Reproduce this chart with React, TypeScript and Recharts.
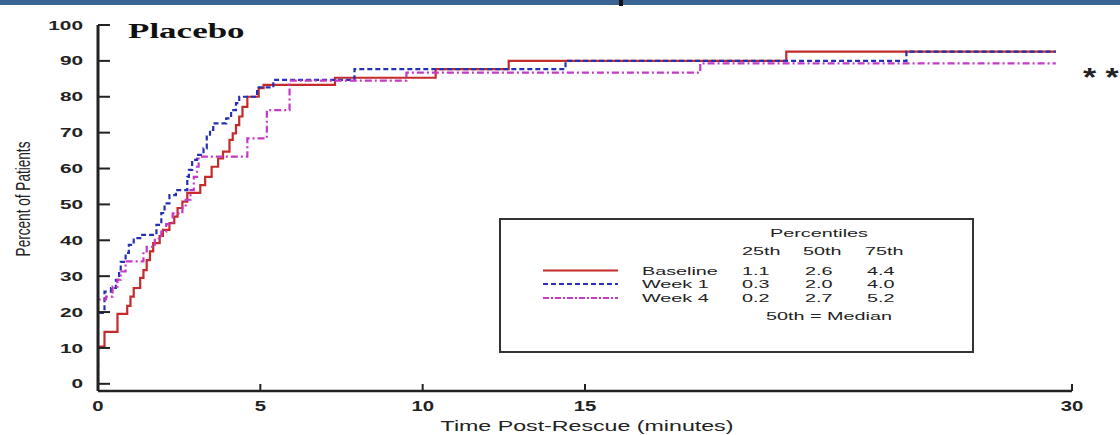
import { Line, LineChart, XAxis, YAxis } from "recharts";

// Cumulative percent of patients over time (step curves)
const baselineTime = [0, 0, 0.2, 0.6, 0.9, 1.0, 1.1, 1.3, 1.4, 1.5, 1.6, 1.7, 1.9, 2.0, 2.2, 2.35, 2.45, 2.6, 2.75, 3.15, 3.3, 3.5, 3.7, 3.85, 4.05, 4.15, 4.25, 4.35, 4.45, 4.6, 4.95, 5.1, 7.3, 10.4, 12.65, 21.2, 29.5];
const baselinePct = [0, 10.4, 14.5, 19.5, 21.7, 24.3, 26.7, 29.5, 31.7, 34.5, 36.9, 39.2, 41.2, 42.9, 44.8, 46.6, 49, 50.8, 53.2, 55.4, 57.7, 60.5, 62.8, 64.7, 68, 69.8, 72.1, 74.5, 77.2, 80, 82.4, 83.3, 85.3, 87.7, 90, 92.6, 92.6];

const week1Time = [0, 0, 0.2, 0.4, 0.55, 0.65, 0.7, 0.85, 0.95, 1.1, 1.3, 1.8, 1.95, 2.05, 2.2, 2.4, 2.75, 2.8, 2.9, 3.05, 3.25, 3.35, 3.45, 3.55, 3.95, 4.1, 4.25, 4.35, 4.9, 5.4, 7.9, 14.4, 24.9, 29.5];
const week1Pct = [0, 19.8, 25.7, 26.7, 29, 31.3, 34, 36.5, 38.7, 40.6, 41.5, 44.3, 47.6, 50.3, 52.6, 54, 57.7, 59.6, 62.4, 63.8, 65.6, 68.9, 70.8, 72.6, 74, 76.3, 78.2, 80, 82.6, 84.7, 87.7, 90, 92.6, 92.6];

const week4Time = [0, 0, 0.25, 0.45, 0.6, 0.7, 0.85, 1.4, 1.5, 1.75, 1.95, 2.1, 2.3, 2.6, 2.7, 2.85, 2.95, 3.05, 3.1, 4.6, 5.2, 5.9, 9.5, 18.55, 29.5];
const week4Pct = [0, 23.5, 24.3, 27.1, 29, 31.3, 34.1, 36.9, 38.2, 40.5, 42.4, 44.5, 47.5, 49.4, 51.3, 54, 57.7, 60.5, 63.3, 68.4, 76.3, 84.5, 86.7, 89.3, 89.3];

const xTicks = [0, 5, 10, 15, 30];
const yTicks = [0, 10, 20, 30, 40, 50, 60, 70, 80, 90, 100];

// percentile table in the box
const groups = ["Baseline", "Week 1", "Week 4"];
const p25 = ["1.1", "0.3", "0.2"];
const p50 = ["2.6", "2.0", "2.7"];
const p75 = ["4.4", "4.0", "5.2"];

const toPoints = (time: number[], pct: number[]) => time.map((t, i) => ({ t, pct: pct[i] }));

const RED = "#c52b2b";
const BLUE = "#2630b2";
const MAGENTA = "#c43ac6";
const INK = "#222";
const SANS = "'Liberation Sans', Arial, sans-serif";

const AXIS_X = 98;
const AXIS_Y = 391;

function YTick({ y, payload }: any) {
  return (
    <g>
      <line x1={AXIS_X} x2={AXIS_X + 12} y1={y} y2={y} stroke={INK} strokeWidth={2} />
      <text transform={`translate(83,${y + 4.6}) scale(1.6,1)`} textAnchor="end" fontFamily={SANS} fontWeight="bold" fontSize={13} fill={INK}>
        {payload.value}
      </text>
    </g>
  );
}

function XTick({ x, payload }: any) {
  return (
    <g>
      <line x1={x} x2={x} y1={AXIS_Y} y2={AXIS_Y - 7} stroke={INK} strokeWidth={2} />
      <text transform={`translate(${x},411) scale(1.45,1)`} textAnchor="middle" fontFamily={SANS} fontWeight="bold" fontSize={14} fill={INK}>
        {payload.value}
      </text>
    </g>
  );
}

function Stretched({ x, y, s, anchor = "start", size = 11, children }: any) {
  return (
    <text transform={`translate(${x},${y}) scale(${s},1)`} textAnchor={anchor} fontFamily={SANS} fontSize={size} fill={INK}>
      {children}
    </text>
  );
}

function Overlay() {
  const rows = [270.5, 284, 298];
  const strokes = [
    { color: RED, dash: undefined },
    { color: BLUE, dash: "5 3" },
    { color: MAGENTA, dash: "6 2 2 2" },
  ];
  return (
    <svg width={1120} height={435} style={{ position: "absolute", left: 0, top: 0, pointerEvents: "none" }}>
      <text transform="translate(128,38) scale(1.75,1)" fontFamily="'Liberation Serif', 'Times New Roman', serif" fontWeight="bold" fontSize={20} fill="#111">
        Placebo
      </text>
      <text transform="translate(1083,86) scale(1.3,1)" fontFamily={SANS} fontWeight="bold" fontSize={26} fill={INK}>
        * *
      </text>
      <text transform="translate(30,199) scale(1.5,1) rotate(-90)" textAnchor="middle" fontFamily={SANS} fontSize={13.6} fill={INK}>
        Percent of Patients
      </text>
      <Stretched x={587} y={431} s={1.6} anchor="middle" size={14.5}>
        Time Post-Rescue (minutes)
      </Stretched>

      <rect x={500} y={219} width={473} height={133} fill="#fff" stroke="#333" strokeWidth={2} />
      <Stretched x={819} y={237} s={1.8} anchor="middle">Percentiles</Stretched>
      <Stretched x={742} y={255} s={1.8}>25th</Stretched>
      <Stretched x={803} y={255} s={1.8}>50th</Stretched>
      <Stretched x={865} y={255} s={1.8}>75th</Stretched>
      {groups.map((g, i) => (
        <g key={g}>
          <line x1={543} x2={618} y1={rows[i]} y2={rows[i]} stroke={strokes[i].color} strokeWidth={2} strokeDasharray={strokes[i].dash} />
          <Stretched x={642} y={rows[i] + 4} s={1.8}>{g}</Stretched>
          <Stretched x={742} y={rows[i] + 4} s={1.8}>{p25[i]}</Stretched>
          <Stretched x={805} y={rows[i] + 4} s={1.8}>{p50[i]}</Stretched>
          <Stretched x={867} y={rows[i] + 4} s={1.8}>{p75[i]}</Stretched>
        </g>
      ))}
      <Stretched x={829} y={320} s={1.8} anchor="middle">50th = Median</Stretched>
    </svg>
  );
}

export default function App() {
  return (
    <div style={{ position: "absolute", left: 0, top: 0, width: 1120, height: 435, background: "#fff" }}>
      <div style={{ position: "absolute", left: 0, top: 0, width: 1120, height: 5, background: "#3a6493" }} />
      <div style={{ position: "absolute", left: 619, top: 0, width: 4, height: 6, background: "#111" }} />
      <LineChart width={1120} height={435} margin={{ top: 25, right: 48, bottom: 0, left: 0 }}>
        <XAxis
          type="number"
          dataKey="t"
          domain={[0, 30]}
          ticks={xTicks}
          interval={0}
          height={44}
          tickLine={false}
          tick={<XTick />}
          axisLine={{ stroke: INK, strokeWidth: 2.5 }}
          allowDataOverflow
        />
        <YAxis
          type="number"
          domain={[-2, 100]}
          ticks={yTicks}
          interval={0}
          width={98}
          tickLine={false}
          tick={<YTick />}
          axisLine={{ stroke: INK, strokeWidth: 3 }}
          allowDataOverflow
        />
        <Line data={toPoints(baselineTime, baselinePct)} dataKey="pct" name="Baseline" type="stepAfter" stroke={RED} strokeWidth={2.2} dot={false} activeDot={false} isAnimationActive={false} />
        <Line data={toPoints(week1Time, week1Pct)} dataKey="pct" name="Week 1" type="stepAfter" stroke={BLUE} strokeWidth={2.2} strokeDasharray="5 3" dot={false} activeDot={false} isAnimationActive={false} />
        <Line data={toPoints(week4Time, week4Pct)} dataKey="pct" name="Week 4" type="stepAfter" stroke={MAGENTA} strokeWidth={2.2} strokeDasharray="7 3 2 3" dot={false} activeDot={false} isAnimationActive={false} />
      </LineChart>
      <Overlay />
    </div>
  );
}
